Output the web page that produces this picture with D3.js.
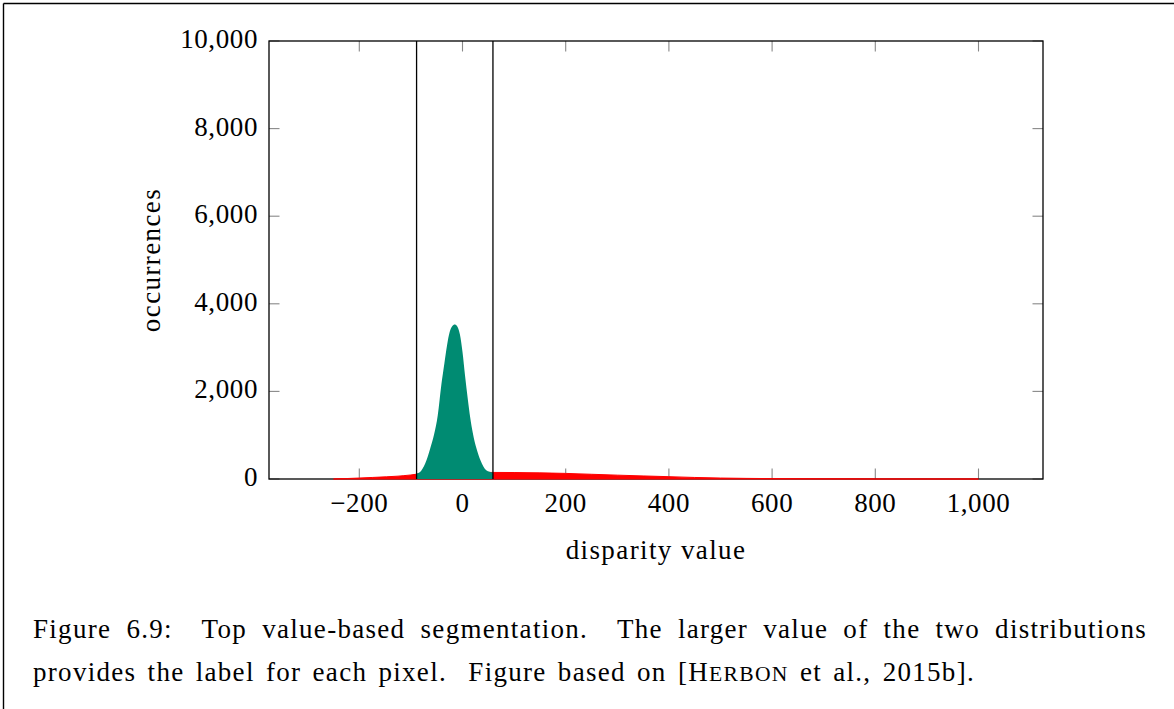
<!DOCTYPE html>
<html><head><meta charset="utf-8">
<script src="https://cdn.jsdelivr.net/npm/d3@7"></script>
<style>body{margin:0;background:#fff}</style>
</head><body>
<svg id="c" width="1174" height="709" xmlns="http://www.w3.org/2000/svg"></svg>
<script>
// ---- data ----
const xTicks = [-200, 0, 200, 400, 600, 800, 1000];
const yTicks = [0, 2000, 4000, 6000, 8000, 10000];
const xDomain = [-375, 1125];
const yDomain = [0, 10000];
const thresholds = [-89, 59];
const redDisparity = [-250,-225,-200,-175,-147,-125,-115,-100,-89,-50,0,30,59,100,150,200,250,300,350,400,450,500,550,600,700,800,900,1000];
const redOccurrences = [0,10,22,35,50,65,75,92,110,130,145,150,150,148,140,128,108,88,70,53,35,22,14,9,4,2,1,0];
const greenDisparity = [-89,-80,-70,-63,-55,-48,-41,-35,-30,-25,-20,-15,-11,-5,0,5,10,15,20,27,35,46,59];
const greenOccurrences = [125,190,420,680,1020,1450,2150,2650,3050,3350,3490,3530,3500,3300,2900,2350,1850,1400,1050,700,420,200,150];
const xLabel = "disparity value";
const yLabel = "occurrences";
const captionLine1 = ["Figure","6.9:","Top","value-based","segmentation.","The","larger","value","of","the","two","distributions"];
const captionLine2 = ["provides","the","label","for","each","pixel.","Figure","based","on","[HERBON","et","al.,","2015b]."];

// ---- layout ----
const FONT = "'Liberation Serif', 'Times New Roman', serif";
const FS = 27;
const L = 269, R = 1043, T = 41, B = 479;
const svg = d3.select("#c");
const x = d3.scaleLinear().domain(xDomain).range([L, R]);
const y = d3.scaleLinear().domain(yDomain).range([B, T]);
const fmt = d3.format(",");

// outer frame (top and left edges)
svg.append("line").attr("x1",3.5).attr("x2",1174).attr("y1",3.5).attr("y2",3.5).attr("stroke","#000").attr("stroke-width",1.4);
svg.append("line").attr("x1",3.5).attr("x2",3.5).attr("y1",3.5).attr("y2",709).attr("stroke","#000").attr("stroke-width",1.4);

// axes with inward ticks on all sides
const tickLen = 10.5;
const gT = svg.append("g").attr("stroke","#888").attr("stroke-width",1.1);
xTicks.forEach(v => {
  gT.append("line").attr("x1",x(v)).attr("x2",x(v)).attr("y1",B).attr("y2",B-tickLen);
  gT.append("line").attr("x1",x(v)).attr("x2",x(v)).attr("y1",T).attr("y2",T+tickLen);
});
yTicks.forEach(v => {
  gT.append("line").attr("x1",L).attr("x2",L+tickLen).attr("y1",y(v)).attr("y2",y(v));
  gT.append("line").attr("x1",R).attr("x2",R-tickLen).attr("y1",y(v)).attr("y2",y(v));
});

svg.append("rect").attr("x",L).attr("y",T).attr("width",R-L).attr("height",B-T)
  .attr("fill","none").attr("stroke","#000").attr("stroke-width",1.3);

// areas
const redData = redDisparity.map((d,i)=>({x:d,y:redOccurrences[i]}));
const greenData = greenDisparity.map((d,i)=>({x:d,y:greenOccurrences[i]}));
const area = d3.area().x(d=>x(d.x)).y0(y(0)).y1(d=>y(d.y)).curve(d3.curveMonotoneX);
svg.append("path").datum(redData).attr("d",area).attr("fill","#ff0000").attr("stroke","#ff0000").attr("stroke-width",1);
svg.append("path").datum(greenData).attr("d",area).attr("fill","#008b72");

// threshold lines
thresholds.forEach(t => {
  svg.append("line").attr("x1",x(t)).attr("x2",x(t)).attr("y1",T).attr("y2",B)
    .attr("stroke","#000").attr("stroke-width",1.3);
});

// tick labels
const tl = svg.append("g").attr("font-family",FONT).attr("font-size",FS).attr("fill","#000");
xTicks.forEach(v => {
  tl.append("text").attr("x",x(v)).attr("y",B+33).attr("text-anchor","middle")
    .attr("letter-spacing",0.6).text(fmt(v));
});
yTicks.forEach(v => {
  tl.append("text").attr("x",L-11).attr("y",y(v)+7).attr("text-anchor","end")
    .attr("letter-spacing",0.6).text(fmt(v));
});

// axis labels
svg.append("text").attr("x",(L+R)/2).attr("y",559).attr("text-anchor","middle")
  .attr("font-family",FONT).attr("font-size",FS).attr("letter-spacing",1.4).text(xLabel);
svg.append("text").attr("transform",`translate(160,${(T+B)/2}) rotate(-90)`).attr("text-anchor","middle")
  .attr("font-family",FONT).attr("font-size",FS).attr("letter-spacing",1.4).text(yLabel);

// caption
function layoutLine(words, x0, x1, yy, bigGapAfter) {
  const g = svg.append("g").attr("font-family",FONT).attr("font-size",FS).attr("letter-spacing",1.3);
  const nodes = words.map(w => {
    const t = g.append("text").attr("y",yy);
    if (w.startsWith("[HERBON")) {
      t.append("tspan").text("[H");
      t.append("tspan").attr("font-size",FS*0.8).text("ERBON");
    } else t.text(w);
    return t;
  });
  const widths = nodes.map(n => n.node().getComputedTextLength());
  const total = d3.sum(widths);
  const weights = words.slice(0,-1).map(w => bigGapAfter.includes(w) ? 1.9 : 1);
  const unit = (x1 - x0 - total) / d3.sum(weights);
  let cx = x0;
  nodes.forEach((n,i) => { n.attr("x",cx); cx += widths[i] + (i<weights.length ? weights[i]*unit : 0); });
}
layoutLine(captionLine1, 33, 1147, 638, ["6.9:","segmentation."]);
layoutLine(captionLine2, 33, 975, 681, ["pixel."]);
</script>
</body></html>
